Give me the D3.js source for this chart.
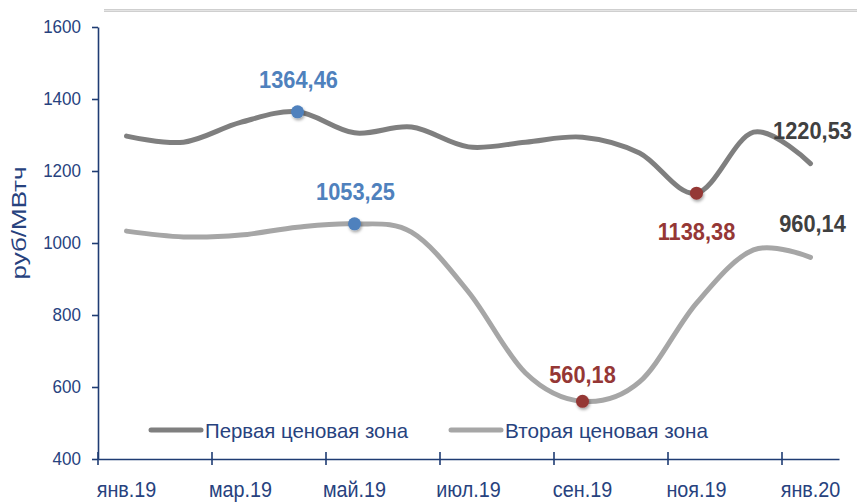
<!DOCTYPE html>
<html lang="ru">
<head>
<meta charset="utf-8">
<title>Цены РСВ по ценовым зонам</title>
<script src="https://cdn.jsdelivr.net/npm/d3@7"></script>
<style>
  body { margin: 0; background: #fff; }
  svg text { font-family: "Liberation Sans", Arial, sans-serif; }
  .axis .domain, .axis line { stroke: #1f3c73; stroke-width: 1.6px; }
  .axis text { fill: #27427e; }
</style>
</head>
<body>
<svg id="chart" width="857" height="502"></svg>
<script>

// data
var months = ["янв.19", "фев.19", "мар.19", "апр.19", "май.19", "июн.19", "июл.19",
              "авг.19", "сен.19", "окт.19", "ноя.19", "дек.19", "янв.20"];
var zone1 = [1297, 1280, 1335, 1364.46, 1306, 1322, 1267, 1280, 1294, 1250, 1138.38, 1308, 1220.53];
var zone2 = [1033, 1017, 1022, 1044, 1053.25, 1030, 864, 639, 560.18, 614, 833, 981, 960.14];
var seriesNames = ["Первая ценовая зона", "Вторая ценовая зона"];
var yTicks = [400, 600, 800, 1000, 1200, 1400, 1600];
var yTitle = "руб/МВтч";

var svg = d3.select("#chart"),
    plotLeft = 98, plotRight = 839, plotTop = 27, plotBottom = 459;

var x = d3.scaleBand().domain(months).range([plotLeft, plotRight]).padding(0),
    y = d3.scaleLinear().domain([400, 1600]).range([plotBottom, plotTop]);

function cx(m) { return x(m) + x.bandwidth() / 2; }

// squeeze text a bit, the original is set in a narrow face
function squeeze(sel, k) {
  sel.each(function() {
    var w = this.getComputedTextLength();
    d3.select(this).attr("textLength", w * k).attr("lengthAdjust", "spacingAndGlyphs");
  });
}
function fit(sel, w) {
  sel.attr("textLength", w).attr("lengthAdjust", "spacingAndGlyphs");
}

var defs = svg.append("defs");
var f = defs.append("filter").attr("id", "shadow")
    .attr("x", "-50%").attr("y", "-50%").attr("width", "200%").attr("height", "200%");
f.append("feDropShadow").attr("dx", 1).attr("dy", 2).attr("stdDeviation", 1.6)
    .attr("flood-color", "#000").attr("flood-opacity", 0.35);

// grey double rule on top
svg.append("rect").attr("x", 104).attr("y", 9).attr("width", 753).attr("height", 3)
    .attr("fill", "#e4e4e4");
svg.append("line").attr("x1", 104).attr("x2", 857).attr("y1", 9.5).attr("y2", 9.5)
    .attr("stroke", "#cfcfcf");
svg.append("line").attr("x1", 104).attr("x2", 857).attr("y1", 11.5).attr("y2", 11.5)
    .attr("stroke", "#cfcfcf");

// y axis
var gy = svg.append("g")
    .attr("class", "axis")
    .attr("transform", "translate(" + plotLeft + ",0)")
    .call(d3.axisLeft(y).tickValues(yTicks).tickSize(6).tickSizeOuter(0).tickPadding(11)
          .tickFormat(d3.format("d")))
    .attr("font-size", 18.5);
squeeze(gy.selectAll("text"), 0.92);

// x axis: labels on every second month, tick marks on the category edges
var gx = svg.append("g")
    .attr("class", "axis")
    .attr("transform", "translate(0," + plotBottom + ")")
    .call(d3.axisBottom(x).tickValues(months.filter(function(d, i) { return i % 2 == 0; }))
          .tickSize(0).tickSizeOuter(0).tickPadding(0))
    .attr("font-size", 21.5);
gx.selectAll("text").attr("y", 38).attr("dy", 0);
squeeze(gx.selectAll("text"), 0.92);

gx.selectAll(".edge")
    .data(months.filter(function(d, i) { return i % 2 == 0; }))
  .enter().append("line")
    .attr("class", "edge")
    .attr("x1", function(d) { return x(d); })
    .attr("x2", function(d) { return x(d); })
    .attr("y1", -7).attr("y2", 6);

// y title
svg.append("text")
    .attr("transform", "translate(26,223) rotate(-90)")
    .attr("text-anchor", "middle")
    .attr("font-size", 21)
    .attr("fill", "#27427e")
    .text(yTitle)
    .call(fit, 113);

// lines
var line = d3.line()
    .curve(d3.curveCatmullRom.alpha(0))
    .x(function(d, i) { return cx(months[i]); })
    .y(function(d) { return y(d); });

var series = [
  {name: seriesNames[0], values: zone1, color: "#7f7f7f"},
  {name: seriesNames[1], values: zone2, color: "#a6a6a6"}
];

svg.selectAll(".line")
    .data(series)
  .enter().append("path")
    .attr("class", "line")
    .attr("fill", "none")
    .attr("stroke", function(d) { return d.color; })
    .attr("stroke-width", 5)
    .attr("stroke-linecap", "round")
    .attr("d", function(d) { return line(d.values); });

// highlighted points and labels
var maxColor = "#4f81bd", minColor = "#953735", lastColor = "#404040";
var marks = [];
series.forEach(function(s, si) {
  var vals = s.values;
  var iMax = vals.indexOf(d3.max(vals)), iMin = vals.indexOf(d3.min(vals)), iLast = vals.length - 1;
  marks.push({i: iMax, v: vals[iMax], color: maxColor, dot: true, dy: -24, dx: 1});
  marks.push({i: iMin, v: vals[iMin], color: minColor, dot: true, dy: si == 0 ? 47 : -18, dx: 0});
  marks.push({i: iLast, v: vals[iLast], color: lastColor, dot: false, dy: -25, dx: 2});
});

svg.selectAll(".dot")
    .data(marks.filter(function(d) { return d.dot; }))
  .enter().append("circle")
    .attr("class", "dot")
    .attr("cx", function(d) { return cx(months[d.i]); })
    .attr("cy", function(d) { return y(d.v); })
    .attr("r", 6.5)
    .attr("fill", function(d) { return d.color; })
    .attr("filter", "url(#shadow)");

var fmt = function(v) { return d3.format(".2f")(v).replace(".", ","); };
svg.selectAll(".val")
    .data(marks)
  .enter().append("text")
    .attr("class", "val")
    .attr("x", function(d) { return cx(months[d.i]) + d.dx; })
    .attr("y", function(d) { return y(d.v) + d.dy; })
    .attr("text-anchor", "middle")
    .attr("font-size", 24.5)
    .attr("font-weight", "bold")
    .attr("fill", function(d) { return d.color; })
    .text(function(d) { return fmt(d.v); })
    .call(squeeze, 0.89);

// legend
var legend = svg.selectAll(".legend")
    .data(series)
  .enter().append("g")
    .attr("class", "legend")
    .attr("transform", function(d, i) { return "translate(" + (151 + i * 300) + ",430)"; });
legend.append("line")
    .attr("x1", 0).attr("x2", 50)
    .attr("stroke", function(d) { return d.color; })
    .attr("stroke-width", 5)
    .attr("stroke-linecap", "round");
legend.append("text")
    .attr("x", 54).attr("y", 8)
    .attr("font-size", 21)
    .attr("fill", "#27427e")
    .text(function(d) { return d.name; })
    .call(fit, 203);

</script>
</body>
</html>
